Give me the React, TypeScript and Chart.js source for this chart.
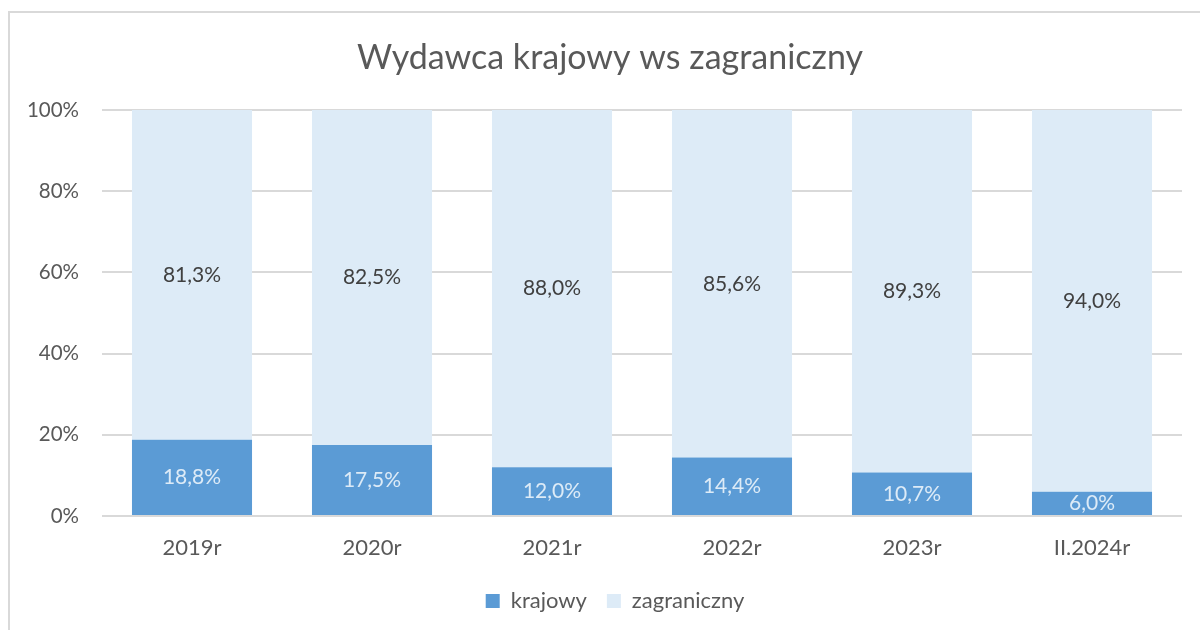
import React, { useEffect, useRef } from "react";
import { Chart, registerables } from "chart.js";

Chart.register(...registerables);

const categories = ["2019r", "2020r", "2021r", "2022r", "2023r", "II.2024r"];
const krajowy = [18.8, 17.5, 12.0, 14.4, 10.7, 6.0];
const zagraniczny = [81.3, 82.5, 88.0, 85.6, 89.3, 94.0];
const yTicks = [0, 20, 40, 60, 80, 100];

const FONT = "Lato, 'Open Sans', sans-serif";

const fmt = (v: number) => v.toFixed(1).replace(".", ",") + "%";

const share = (a: number[], b: number[]) => a.map((v, i) => (v / (v + b[i])) * 100);

const labelPlugin = {
  id: "barLabels",
  afterDatasetsDraw(chart: any) {
    const ctx = chart.ctx;
    const raw = [krajowy, zagraniczny];
    const colors = ["#DDEBF7", "#404040"];
    chart.data.datasets.forEach((ds: any, di: number) => {
      const meta = chart.getDatasetMeta(di);
      meta.data.forEach((bar: any, i: number) => {
        const { x, y, base } = bar.getProps(["x", "y", "base"], true);
        ctx.save();
        ctx.font = `21px ${FONT}`;
        ctx.fillStyle = colors[di];
        ctx.textAlign = "center";
        ctx.textBaseline = "middle";
        ctx.fillText(fmt(raw[di][i]), x, (y + base) / 2);
        ctx.restore();
      });
    });
  },
};

// Excel centres title and legend on the whole chart object, which extends past the viewport
const shiftPlugin = {
  id: "shiftBlocks",
  afterLayout(chart: any) {
    if (chart.titleBlock) chart.titleBlock.left += 38;
    if (chart.legend) chart.legend.left += 48;
  },
};

export default function App() {
  const ref = useRef<HTMLCanvasElement | null>(null);
  useEffect(() => {
    if (!ref.current) return;
    const chart = new Chart(ref.current, {
      type: "bar",
      data: {
        labels: categories,
        datasets: [
          {
            label: "krajowy",
            data: share(krajowy, zagraniczny),
            backgroundColor: "#5B9BD5",
            categoryPercentage: 1,
            barPercentage: 0.667,
          },
          {
            label: "zagraniczny",
            data: share(zagraniczny, krajowy),
            backgroundColor: "#DDEBF7",
            categoryPercentage: 1,
            barPercentage: 0.667,
          },
        ],
      },
      options: {
        responsive: false,
        animation: false,
        layout: { padding: { left: 0, right: 18, top: 0, bottom: 8 } },
        plugins: {
          tooltip: { enabled: false },
          title: {
            display: true,
            text: "Wydawca krajowy ws zagraniczny",
            color: "#595959",
            font: { family: FONT, size: 34, weight: "normal" },
            padding: { top: 37.6, bottom: 31.6 },
          },
          legend: {
            position: "bottom",
            labels: {
              color: "#595959",
              font: { family: FONT, size: 22 },
              boxWidth: 14,
              boxHeight: 14,
              padding: 20,
            },
          },
        },
        scales: {
          x: {
            stacked: true,
            afterFit: (s: any) => {
              s.height = 54;
            },
            grid: { display: false, drawTicks: false },
            border: { display: false },
            ticks: { color: "#595959", font: { family: FONT, size: 22 }, padding: 19 },
          },
          y: {
            stacked: true,
            min: 0,
            max: 100,
            afterFit: (s: any) => {
              s.width = 102;
            },
            afterBuildTicks: (s: any) => {
              s.ticks = yTicks.map((v) => ({ value: v }));
            },
            grid: { color: "#D9D9D9", lineWidth: 2, drawTicks: false },
            border: { display: false },
            ticks: {
              color: "#595959",
              font: { family: FONT, size: 20.5 },
              padding: 23,
              callback: (v: any) => v + "%",
            },
          },
        },
      },
      plugins: [labelPlugin, shiftPlugin],
    });
    return () => chart.destroy();
  }, []);
  return (
    <div style={{ position: "fixed", left: 0, top: 0, width: 1200, height: 630, background: "#fff" }}>
      <div
        style={{
          position: "absolute",
          left: 8,
          top: 11,
          width: 1300,
          height: 700,
          border: "2px solid #D9D9D9",
          boxSizing: "border-box",
        }}
      />
      <canvas ref={ref} width={1200} height={630} style={{ position: "absolute", left: 0, top: 0 }} />
    </div>
  );
}
